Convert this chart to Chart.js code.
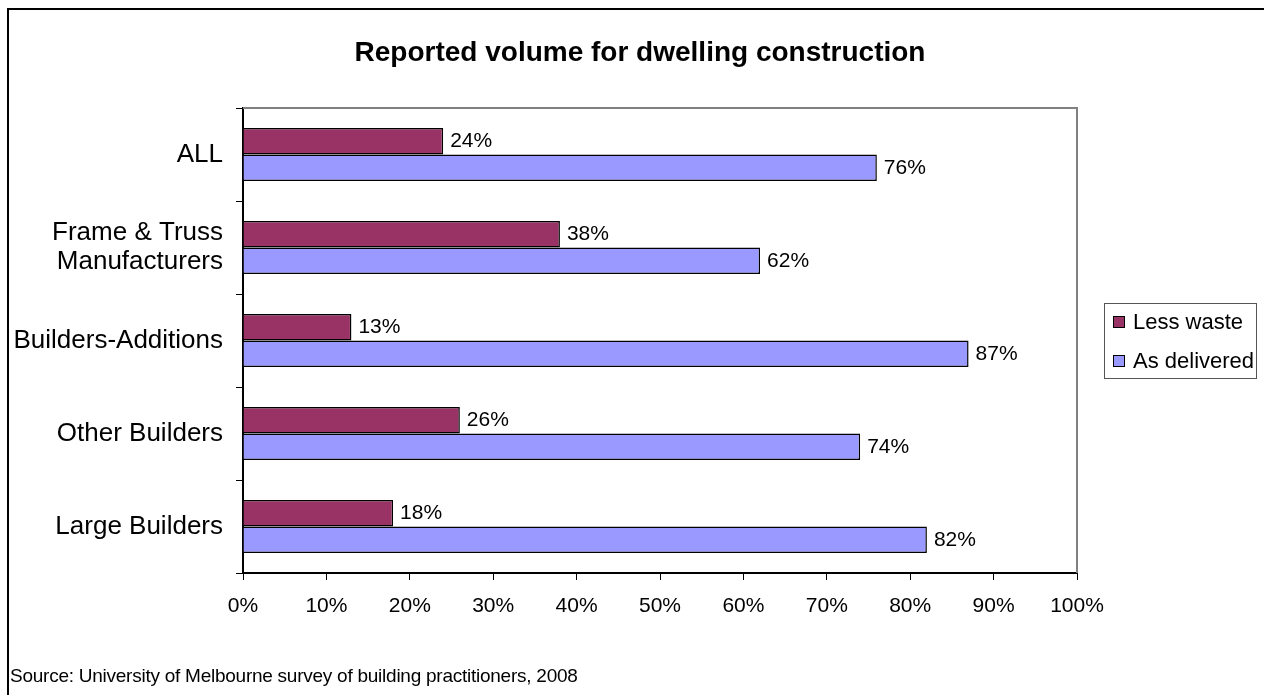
<!DOCTYPE html>
<html>
<head>
<meta charset="utf-8">
<script src="https://cdn.jsdelivr.net/npm/chart.js@4"></script>
<style>
  html, body { margin: 0; padding: 0; background: #fff; }
  #wrap { position: relative; width: 1264px; height: 695px; overflow: hidden; }
  #frame { position: absolute; left: 7px; top: 8px; width: 1400px; height: 800px; border-left: 2px solid #000; border-top: 2px solid #000; }
  canvas { position: absolute; left: 0; top: 0; }
</style>
</head>
<body>
<div id="wrap">
  <div id="frame"></div>
  <canvas id="chart" width="1264" height="695"></canvas>
</div>
<script>
// Chart data
const categories = ['ALL', ['Frame & Truss', 'Manufacturers'], 'Builders-Additions', 'Other Builders', 'Large Builders'];
const lessWaste = [24, 38, 13, 26, 18];
const asDelivered = [76, 62, 87, 74, 82];
const xTicks = [0, 10, 20, 30, 40, 50, 60, 70, 80, 90, 100];

const FONT = "'Liberation Sans', Arial, sans-serif";

// Title, plot frame, value labels, legend and source note
const extras = {
    id: 'extras',
    afterDatasetsDraw(chart) {
        const ctx = chart.ctx;
        const area = chart.chartArea;
        ctx.save();

        // grey frame on top and right of the plot area
        ctx.strokeStyle = '#808080';
        ctx.lineWidth = 2;
        ctx.beginPath();
        ctx.moveTo(area.left, area.top);
        ctx.lineTo(area.right, area.top);
        ctx.lineTo(area.right, area.bottom);
        ctx.stroke();

        // value labels at the bar ends
        ctx.fillStyle = '#000';
        ctx.font = '21px ' + FONT;
        ctx.textAlign = 'left';
        ctx.textBaseline = 'middle';
        chart.data.datasets.forEach((ds, i) => {
            chart.getDatasetMeta(i).data.forEach((bar, j) => {
                ctx.fillText(ds.data[j] + '%', bar.x + 7, bar.y);
            });
        });

        // title
        ctx.font = 'bold 28px ' + FONT;
        ctx.textAlign = 'center';
        ctx.fillText('Reported volume for dwelling construction', 640, 53);

        // legend
        ctx.strokeStyle = '#555';
        ctx.lineWidth = 1;
        ctx.strokeRect(1104.5, 303.5, 152, 75);
        ctx.font = '22px ' + FONT;
        ctx.textAlign = 'left';
        chart.data.datasets.forEach((ds, i) => {
            const y = 322 + i * 39;
            ctx.fillStyle = ds.backgroundColor;
            ctx.fillRect(1113, y - 6, 12, 12);
            ctx.strokeStyle = '#000';
            ctx.strokeRect(1113.5, y - 5.5, 11, 11);
            ctx.fillStyle = '#000';
            ctx.fillText(ds.label, 1133, y + 1);
        });

        // source note
        ctx.font = '19px ' + FONT;
        ctx.textBaseline = 'alphabetic';
        ctx.letterSpacing = '-0.25px';
        ctx.fillText('Source: University of Melbourne survey of building practitioners, 2008', 10, 682);
        ctx.restore();
    }
};

new Chart(document.getElementById('chart'), {
    type: 'bar',
    data: {
        labels: categories,
        datasets: [
            { label: 'Less waste', data: lessWaste, backgroundColor: '#993366', borderColor: '#000', borderWidth: 1.5 },
            { label: 'As delivered', data: asDelivered, backgroundColor: '#9999FF', borderColor: '#000', borderWidth: 1.5 }
        ]
    },
    options: {
        indexAxis: 'y',
        responsive: false,
        animation: false,
        categoryPercentage: 0.57,
        barPercentage: 1,
        layout: { padding: { top: 108, right: 187, bottom: 62, left: 0 } },
        plugins: {
            legend: { display: false },
            title: { display: false },
            tooltip: { enabled: false }
        },
        scales: {
            x: {
                min: 0,
                max: 100,
                afterFit: (scale) => { scale.height = 60; },
                afterBuildTicks: (scale) => { scale.ticks = xTicks.map(v => ({ value: v })); },
                ticks: {
                    color: '#000',
                    font: { family: FONT, size: 21 },
                    padding: 14,
                    maxRotation: 0,
                    callback: (v) => v + '%'
                },
                grid: { drawOnChartArea: false, color: '#000', tickLength: 7 },
                border: { color: '#000', width: 2 }
            },
            y: {
                afterFit: (scale) => { scale.width = 243; },
                ticks: {
                    color: '#000',
                    font: { family: FONT, size: 26, lineHeight: 1.1 },
                    padding: 13
                },
                grid: { drawOnChartArea: false, color: '#000', tickLength: 7, offset: true },
                border: { color: '#000', width: 2 }
            }
        }
    },
    plugins: [extras]
});
</script>
</body>
</html>
